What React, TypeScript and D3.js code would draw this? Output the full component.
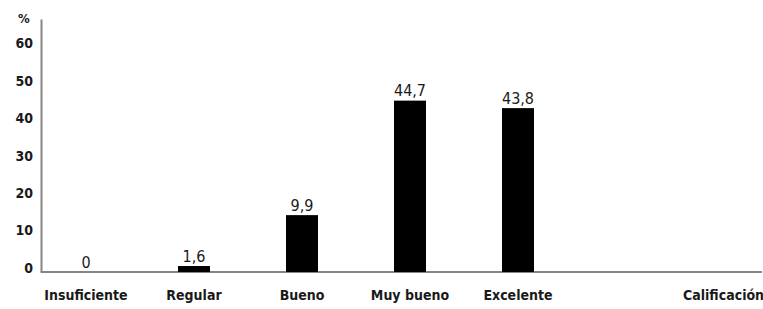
import React, { useEffect, useRef } from "react";
import * as d3 from "d3";

// categories and values
const categories = ["Insuficiente", "Regular", "Bueno", "Muy bueno", "Excelente"];
const barHeights = [0, 1.6, 15.2, 45.8, 43.8];
const valueLabels = ["0", "1,6", "9,9", "44,7", "43,8"];
const yTicks = [0, 10, 20, 30, 40, 50, 60];

const width = 763;
const height = 309;
const font = "'DejaVu Sans Condensed', 'DejaVu Sans', sans-serif";

const App: React.FC = () => {
  const svgRef = useRef<SVGSVGElement>(null);

  useEffect(() => {
    if (!svgRef.current) return;
    const svg = d3.select(svgRef.current);
    svg.selectAll("*").remove();

    const axisX = 41.5;
    const xScale = d3.scalePoint<string>().domain(categories).range([86, 518]);
    const yScale = d3.scaleLinear().domain([0, 60]).range([272, 47.5]);
    const barWidth = 32;

    const styleText = (sel: d3.Selection<any, any, any, any>, size: number) =>
      sel
        .style("font-family", font)
        .style("font-stretch", "condensed")
        .style("font-size", `${size}px`)
        .style("font-weight", "bold")
        .attr("fill", "#1a1a1a");

    // y axis line
    svg.append("line")
      .attr("x1", axisX).attr("x2", axisX)
      .attr("y1", yScale(0)).attr("y2", yScale(67.5))
      .attr("stroke", "#858585")
      .attr("stroke-width", 2);

    // x axis line
    svg.append("line")
      .attr("x1", axisX - 1).attr("x2", 762)
      .attr("y1", yScale(0)).attr("y2", yScale(0))
      .attr("stroke", "#858585")
      .attr("stroke-width", 2);

    // tick labels
    svg.selectAll(".ytick")
      .data(yTicks)
      .join("text")
      .attr("class", "ytick")
      .attr("x", 33)
      .attr("y", d => yScale(d) - 4)
      .attr("dy", "0.35em")
      .attr("text-anchor", "end")
      .call(styleText, 14)
      .text(d => d);

    svg.append("text")
      .attr("x", 18)
      .attr("y", yScale(67) - 3)
      .attr("dy", "0.35em")
      .attr("text-anchor", "start")
      .call(styleText, 13)
      .text("%");

    // bars
    svg.selectAll(".bar")
      .data(categories)
      .join("rect")
      .attr("class", "bar")
      .attr("x", d => (xScale(d) ?? 0) - barWidth / 2)
      .attr("y", (d, i) => yScale(barHeights[i]))
      .attr("width", barWidth)
      .attr("height", (d, i) => yScale(0) - yScale(barHeights[i]))
      .attr("fill", "#000");

    // value labels
    svg.selectAll(".val")
      .data(categories)
      .join("text")
      .attr("class", "val")
      .attr("x", d => xScale(d) ?? 0)
      .attr("y", (d, i) => yScale(barHeights[i]) - 10)
      .attr("dy", "0.35em")
      .attr("text-anchor", "middle")
      .call(styleText, 16)
      .style("font-weight", "normal")
      .text((d, i) => valueLabels[i]);

    // category labels
    svg.selectAll(".cat")
      .data(categories)
      .join("text")
      .attr("class", "cat")
      .attr("x", d => xScale(d) ?? 0)
      .attr("y", 295)
      .attr("dy", "0.35em")
      .attr("text-anchor", "middle")
      .call(styleText, 14)
      .text(d => d);

    // axis title
    svg.append("text")
      .attr("x", 683)
      .attr("y", 295)
      .attr("dy", "0.35em")
      .attr("text-anchor", "start")
      .call(styleText, 14)
      .text("Calificación");
  }, []);

  return (
    <svg
      ref={svgRef}
      width={width}
      height={height}
      style={{ position: "absolute", left: 0, top: 0, background: "#fff" }}
    />
  );
};

export default App;
